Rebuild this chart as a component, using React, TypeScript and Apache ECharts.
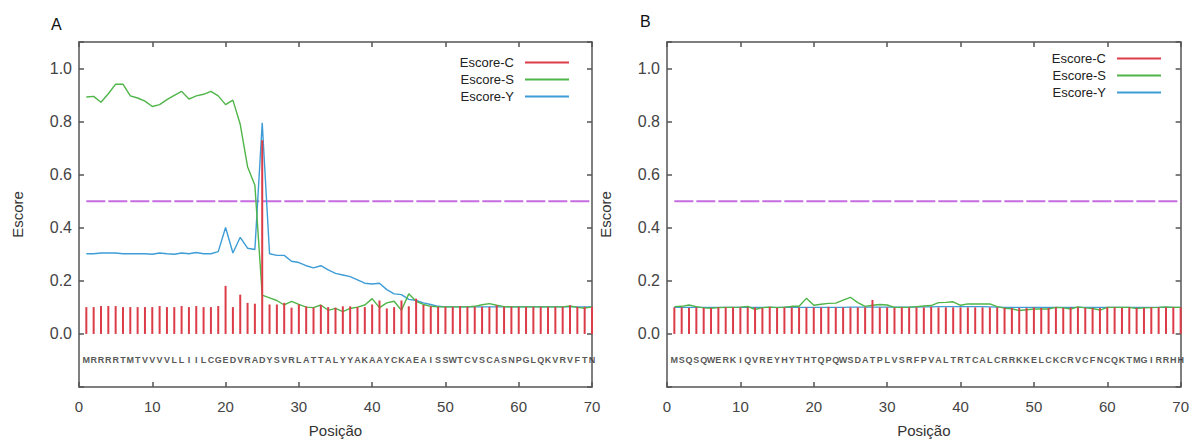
import React, { useEffect, useRef } from "react";
import * as echarts from "echarts";

// ---- Data ----
const seqA = "MRRRRTMTVVVVLLIILCGEDVRADYSVRLATTALYYAKAAYCKAEAISSWTCVSCASNPGLQKVRVFTN";
const seqB = "MSQSQWERKIQVREYHYTHTQPQWSDATPLVSRFPVALTRTCALCRRKKELCKCRVCFNCQKTMGIRRHH";

const xTicks = [0, 10, 20, 30, 40, 50, 60, 70];
const yTickLabels = ["0.0", "0.2", "0.4", "0.6", "0.8", "1.0"];
const threshold = 0.5;
const thresholdSpan = [1, 70];

const cScoreA = [
  0.101, 0.101, 0.105, 0.105, 0.105, 0.101, 0.101, 0.101, 0.101, 0.101,
  0.105, 0.101, 0.101, 0.105, 0.101, 0.105, 0.101, 0.101, 0.105, 0.181,
  0.101, 0.148, 0.117, 0.114, 0.730, 0.111, 0.111, 0.117, 0.099, 0.111,
  0.104, 0.099, 0.109, 0.101, 0.099, 0.104, 0.104, 0.101, 0.101, 0.111,
  0.126, 0.096, 0.101, 0.126, 0.104, 0.133, 0.109, 0.104, 0.102, 0.102,
  0.102, 0.105, 0.102, 0.102, 0.102, 0.102, 0.108, 0.102, 0.102, 0.102,
  0.102, 0.102, 0.102, 0.102, 0.102, 0.102, 0.108, 0.102, 0.102, 0.102,
];
const sScoreA = [
  0.893, 0.895, 0.873, 0.905, 0.941, 0.941, 0.897, 0.889, 0.877, 0.857,
  0.864, 0.883, 0.899, 0.914, 0.885, 0.897, 0.903, 0.914, 0.897, 0.864,
  0.881, 0.790, 0.630, 0.560, 0.146, 0.136, 0.126, 0.109, 0.123, 0.111,
  0.101, 0.099, 0.109, 0.089, 0.096, 0.084, 0.096, 0.101, 0.109, 0.133,
  0.099, 0.117, 0.123, 0.089, 0.151, 0.123, 0.111, 0.104, 0.102, 0.102,
  0.102, 0.102, 0.102, 0.104, 0.110, 0.114, 0.108, 0.103, 0.102, 0.102,
  0.102, 0.102, 0.102, 0.102, 0.102, 0.102, 0.105, 0.100, 0.097, 0.102,
];
const yScoreA = [
  0.302, 0.302, 0.305, 0.305, 0.305, 0.302, 0.302, 0.302, 0.302, 0.300,
  0.305, 0.302, 0.300, 0.305, 0.302, 0.307, 0.302, 0.302, 0.310, 0.401,
  0.305, 0.364, 0.323, 0.318, 0.796, 0.302, 0.296, 0.296, 0.274, 0.269,
  0.257, 0.249, 0.257, 0.241, 0.228, 0.222, 0.216, 0.204, 0.191, 0.188,
  0.191, 0.167, 0.151, 0.148, 0.130, 0.126, 0.117, 0.111, 0.104, 0.102,
  0.102, 0.102, 0.102, 0.102, 0.102, 0.102, 0.102, 0.102, 0.102, 0.102,
  0.102, 0.102, 0.102, 0.102, 0.102, 0.102, 0.102, 0.102, 0.102, 0.102,
];

const cScoreB = [
  0.100, 0.100, 0.098, 0.100, 0.098, 0.098, 0.100, 0.100, 0.100, 0.100,
  0.100, 0.100, 0.098, 0.102, 0.098, 0.100, 0.100, 0.100, 0.100, 0.100,
  0.100, 0.102, 0.100, 0.100, 0.100, 0.100, 0.100, 0.128, 0.100, 0.100,
  0.098, 0.100, 0.100, 0.100, 0.100, 0.102, 0.100, 0.100, 0.100, 0.100,
  0.100, 0.100, 0.100, 0.100, 0.100, 0.098, 0.098, 0.098, 0.098, 0.100,
  0.098, 0.098, 0.100, 0.098, 0.100, 0.100, 0.098, 0.098, 0.098, 0.100,
  0.100, 0.098, 0.100, 0.098, 0.098, 0.100, 0.100, 0.100, 0.100, 0.100,
];
const sScoreB = [
  0.103, 0.104, 0.109, 0.103, 0.098, 0.097, 0.099, 0.100, 0.100, 0.101,
  0.104, 0.092, 0.099, 0.101, 0.099, 0.101, 0.104, 0.104, 0.134, 0.108,
  0.112, 0.115, 0.116, 0.127, 0.138, 0.118, 0.104, 0.108, 0.111, 0.109,
  0.100, 0.100, 0.101, 0.103, 0.105, 0.107, 0.118, 0.119, 0.121, 0.108,
  0.113, 0.113, 0.113, 0.113, 0.103, 0.097, 0.095, 0.088, 0.091, 0.094,
  0.094, 0.094, 0.100, 0.098, 0.094, 0.102, 0.098, 0.096, 0.090, 0.100,
  0.100, 0.100, 0.100, 0.096, 0.098, 0.099, 0.100, 0.102, 0.100, 0.100,
];
const yScoreB = [
  0.100, 0.100, 0.100, 0.100, 0.100, 0.100, 0.100, 0.100, 0.100, 0.100,
  0.100, 0.100, 0.100, 0.100, 0.100, 0.100, 0.100, 0.100, 0.100, 0.100,
  0.100, 0.100, 0.100, 0.100, 0.101, 0.101, 0.101, 0.101, 0.101, 0.101,
  0.101, 0.101, 0.101, 0.101, 0.102, 0.102, 0.103, 0.103, 0.103, 0.103,
  0.103, 0.103, 0.103, 0.102, 0.101, 0.100, 0.100, 0.100, 0.100, 0.100,
  0.100, 0.100, 0.100, 0.100, 0.100, 0.100, 0.100, 0.100, 0.100, 0.100,
  0.100, 0.100, 0.100, 0.100, 0.100, 0.100, 0.100, 0.100, 0.100, 0.100,
];

const seriesNames = ["Escore-C", "Escore-S", "Escore-Y"];
const panelLabels = ["A", "B"];

// ---- Styles ----
const RED = "#dc3c48";
const GREEN = "#4fb548";
const BLUE = "#3e9dd6";
const PURPLE = "#c46ce0";
const AXIS = "#555";
const TXT = "#444";
const FONT = "Liberation Sans, Arial, sans-serif";

const grids = [
  { left: 79, top: 42, width: 513, height: 353 },
  { left: 667, top: 42, width: 517, height: 353 },
];

function pairs(vals: number[]) {
  return vals.map((v, i) => [i + 1, v]);
}

export default function App() {
  const ref = useRef<HTMLDivElement>(null);
  useEffect(() => {
    document.body.style.margin = "0";
    if (!ref.current) return;
    const chart = echarts.init(ref.current, null, { renderer: "svg" });

    const lineStyle = { color: AXIS, width: 1.5 };
    const xAxes: any[] = [];
    const yAxes: any[] = [];
    grids.forEach((_, g) => {
      xAxes.push({
        gridIndex: g,
        type: "value",
        min: xTicks[0],
        max: xTicks[xTicks.length - 1],
        interval: 10,
        position: "bottom",
        axisLine: { show: true, onZero: false, lineStyle },
        axisTick: { show: true, inside: true, length: 5, lineStyle },
        axisLabel: { fontSize: 15, color: TXT, margin: 12, fontFamily: FONT },
        splitLine: { show: false },
        name: "Posição",
        nameLocation: "middle",
        nameGap: 36,
        nameTextStyle: { fontSize: 15, color: "#333", fontFamily: FONT },
      });
      xAxes.push({
        gridIndex: g,
        type: "value",
        min: xTicks[0],
        max: xTicks[xTicks.length - 1],
        interval: 10,
        position: "top",
        axisLine: { show: true, onZero: false, lineStyle },
        axisTick: { show: true, inside: true, length: 5, lineStyle },
        axisLabel: { show: false },
        splitLine: { show: false },
      });
      const fmt = (v: number) => {
        const s = v.toFixed(1);
        return yTickLabels.includes(s) && Math.abs(v - parseFloat(s)) < 1e-6 ? s : "";
      };
      yAxes.push({
        gridIndex: g,
        type: "value",
        min: -0.2,
        max: 1.1,
        interval: 0.2,
        position: "left",
        axisLine: { show: true, onZero: false, lineStyle },
        axisTick: { show: true, inside: true, length: 5, lineStyle },
        axisLabel: { fontSize: 16, color: TXT, margin: 7, formatter: fmt, fontFamily: FONT },
        splitLine: { show: false },
        name: "Escore",
        nameLocation: "middle",
        nameGap: 54,
        nameTextStyle: { fontSize: 15, color: "#333", fontFamily: FONT },
      });
      yAxes.push({
        gridIndex: g,
        type: "value",
        min: -0.2,
        max: 1.1,
        interval: 0.2,
        position: "right",
        axisLine: { show: true, onZero: false, lineStyle },
        axisTick: { show: true, inside: true, length: 5, lineStyle },
        axisLabel: { show: false },
        splitLine: { show: false },
      });
    });

    const panels = [
      { c: cScoreA, s: sScoreA, y: yScoreA, seq: seqA },
      { c: cScoreB, s: sScoreB, y: yScoreB, seq: seqB },
    ];
    const series: any[] = [];
    panels.forEach((p, g) => {
      const ax = { xAxisIndex: g * 2, yAxisIndex: g * 2 };
      series.push({
        type: "line",
        ...ax,
        data: thresholdSpan.map((x) => [x, threshold]),
        symbol: "none",
        lineStyle: { color: PURPLE, width: 2, type: [19, 3] },
        z: 1,
        silent: true,
      });
      series.push({
        name: seriesNames[2],
        type: "line",
        ...ax,
        data: pairs(p.y),
        symbol: "none",
        lineStyle: { color: BLUE, width: 1.4 },
        itemStyle: { color: BLUE },
        z: 2,
      });
      series.push({
        name: seriesNames[1],
        type: "line",
        ...ax,
        data: pairs(p.s),
        symbol: "none",
        lineStyle: { color: GREEN, width: 1.4 },
        itemStyle: { color: GREEN },
        z: 3,
      });
      series.push({
        name: seriesNames[0],
        type: "bar",
        ...ax,
        data: pairs(p.c),
        barWidth: 2,
        itemStyle: { color: RED },
        z: 4,
      });
      series.push({
        type: "scatter",
        ...ax,
        data: p.seq.split("").map((ch, i) => [i + 1, -0.1, ch]),
        symbolSize: 1,
        itemStyle: { color: "rgba(0,0,0,0)" },
        label: {
          show: true,
          position: "inside",
          formatter: (d: any) => d.value[2],
          fontSize: 9,
          fontWeight: "bold",
          color: "#2a2a2a",
          fontFamily: FONT,
        },
        silent: true,
        z: 5,
      });
    });

    const legendBase = {
      orient: "vertical",
      align: "right",
      itemWidth: 44,
      itemHeight: 2,
      itemGap: 0,
      icon: "rect",
      selectedMode: false,
      textStyle: {
        fontSize: 13,
        color: "#222",
        lineHeight: 17,
        padding: [0, 6, 0, 0],
        fontFamily: FONT,
      },
      data: [
        { name: seriesNames[0], itemStyle: { color: RED } },
        { name: seriesNames[1], itemStyle: { color: GREEN } },
        { name: seriesNames[2], itemStyle: { color: BLUE } },
      ],
    };

    chart.setOption({
      animation: false,
      backgroundColor: "#fff",
      grid: grids,
      xAxis: xAxes,
      yAxis: yAxes,
      legend: [
        { ...legendBase, right: 618, top: 49 },
        { ...legendBase, right: 26, top: 45 },
      ],
      graphic: [
        {
          type: "text",
          left: 51,
          top: 16,
          style: { text: panelLabels[0], fontSize: 16, fill: "#111", fontFamily: FONT },
        },
        {
          type: "text",
          left: 640,
          top: 13,
          style: { text: panelLabels[1], fontSize: 16, fill: "#111", fontFamily: FONT },
        },
      ],
      series,
    });
    return () => chart.dispose();
  }, []);
  return <div ref={ref} style={{ width: 1192, height: 443 }} />;
}
